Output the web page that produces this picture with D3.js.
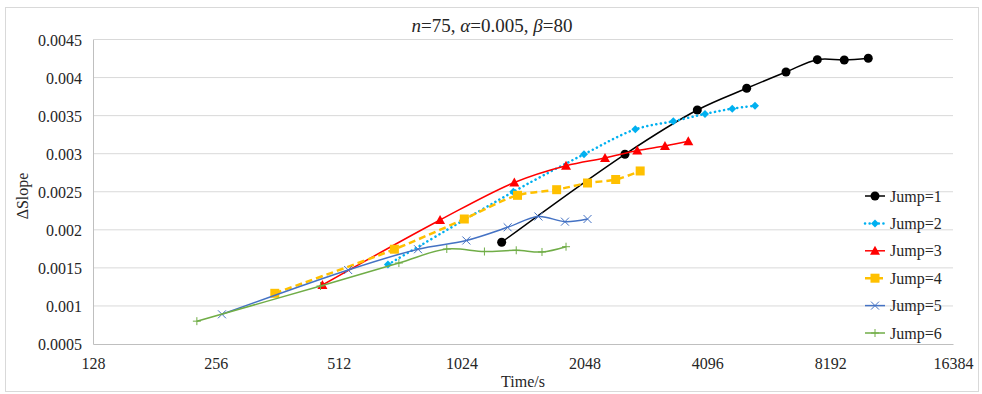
<!DOCTYPE html>
<html>
<head>
<meta charset="utf-8">
<script src="https://cdn.jsdelivr.net/npm/d3@7"></script>
<style>
  body { margin: 0; background: #fff; }
  text { font-family: "Liberation Serif", "Times New Roman", serif; fill: #262626; }
</style>
</head>
<body>
<div id="chart"></div>
<script>
var svgWidth = 982;
var svgHeight = 394;

var margin = { top: 39.5, right: 29, bottom: 50, left: 93 };
var width = 953 - margin.left;
var height = 344 - margin.top;

// data (time in seconds, delta slope)
var seriesNames = ["Jump=1", "Jump=2", "Jump=3", "Jump=4", "Jump=5", "Jump=6"];

var jump1Time = [1284, 2574, 3872, 5116, 6386, 7620, 8871, 10158];
var jump1Val = [0.001836, 0.002992, 0.003574, 0.003859, 0.004073, 0.004235, 0.004231, 0.004253];

var jump2Time = [676, 1371, 2043, 2729, 3382, 4043, 4716, 5361];
var jump2Val = [0.001543, 0.0025, 0.002992, 0.00332, 0.003426, 0.003522, 0.003591, 0.00363];

var jump3Time = [467, 907, 1379, 1846, 2300, 2759, 3226, 3680];
var jump3Val = [0.001275, 0.002129, 0.002622, 0.002842, 0.002944, 0.003042, 0.003101, 0.003163];

var jump4Time = [357, 701, 1040, 1404, 1751, 2084, 2443, 2805];
var jump4Val = [0.001166, 0.001745, 0.002142, 0.002453, 0.002527, 0.002615, 0.002661, 0.002773];

var jump5Time = [265, 540, 801, 1052, 1328, 1580, 1835, 2084];
var jump5Val = [0.00089, 0.001472, 0.001745, 0.00186, 0.002033, 0.002175, 0.002107, 0.002142];

var jump6Time = [230, 462, 719, 942, 1165, 1394, 1612, 1846];
var jump6Val = [0.0008, 0.001262, 0.001564, 0.001748, 0.001715, 0.001731, 0.001709, 0.001778];

var xTicks = [128, 256, 512, 1024, 2048, 4096, 8192, 16384];
var yTicks = [0.0005, 0.001, 0.0015, 0.002, 0.0025, 0.003, 0.0035, 0.004, 0.0045];

var allTimes = [jump1Time, jump2Time, jump3Time, jump4Time, jump5Time, jump6Time];
var allVals = [jump1Val, jump2Val, jump3Val, jump4Val, jump5Val, jump6Val];

// styles per series
var colors = ["#000000", "#00B0F0", "#FF0000", "#FFC000", "#4472C4", "#70AD47"];
var widths = [1.5, 2.5, 1.5, 2.5, 1.5, 1.5];
var dashes = [null, "0.1,4.5", null, "7,4", null, null];
var caps = ["butt", "round", "butt", "butt", "butt", "butt"];
var shapes = ["circle", "diamond", "triangle", "square", "x", "plus"];

var svg = d3.select("#chart")
  .append("svg")
  .attr("width", svgWidth)
  .attr("height", svgHeight);

// outer frame
svg.append("rect")
  .attr("x", 5.5)
  .attr("y", 7.5)
  .attr("width", 973)
  .attr("height", 384)
  .attr("fill", "none")
  .attr("stroke", "#d9d9d9");

var chartGroup = svg.append("g")
  .attr("transform", `translate(${margin.left}, ${margin.top})`);

var xScale = d3.scaleLog().base(2)
  .domain([128, 16384])
  .range([0, width]);

var yScale = d3.scaleLinear()
  .domain([0.0005, 0.0045])
  .range([height, 0]);

// gridlines
chartGroup.append("g")
  .selectAll("line")
  .data(yTicks.slice(1))
  .enter()
  .append("line")
  .attr("x1", 0)
  .attr("x2", width)
  .attr("y1", d => yScale(d))
  .attr("y2", d => yScale(d))
  .attr("stroke", "#d9d9d9")
  .attr("stroke-width", 1);

// axes
var leftAxis = d3.axisLeft(yScale)
  .tickValues(yTicks)
  .tickSize(0)
  .tickPadding(11)
  .tickFormat(d => String(+d.toFixed(4)));

var bottomAxis = d3.axisBottom(xScale)
  .tickValues(xTicks)
  .tickSize(0)
  .tickPadding(14)
  .tickFormat(d => String(d));

var yAxis = chartGroup.append("g").call(leftAxis);
var xAxis = chartGroup.append("g")
  .attr("transform", `translate(0, ${height})`)
  .call(bottomAxis);

[yAxis, xAxis].forEach(function(ax) {
  ax.select(".domain").attr("stroke", "#bfbfbf");
  ax.selectAll("text")
    .attr("font-family", "Liberation Serif")
    .attr("font-size", "16px")
    .attr("fill", "#262626");
});
yAxis.selectAll("text").attr("dy", "0.35em");

// axis titles
svg.append("text")
  .attr("x", 523)
  .attr("y", 387)
  .attr("text-anchor", "middle")
  .attr("font-size", "16px")
  .text("Time/s");

svg.append("text")
  .attr("transform", "translate(28, 196) rotate(-90)")
  .attr("text-anchor", "middle")
  .attr("font-size", "16px")
  .text("\u0394Slope");

// title with italic symbols
var title = svg.append("text")
  .attr("x", 492)
  .attr("y", 32)
  .attr("text-anchor", "middle")
  .attr("font-size", "19px");
title.append("tspan").attr("font-style", "italic").text("n");
title.append("tspan").text("=75, ");
title.append("tspan").attr("font-style", "italic").text("\u03B1");
title.append("tspan").text("=0.005, ");
title.append("tspan").attr("font-style", "italic").text("\u03B2");
title.append("tspan").text("=80");

// marker drawing
function drawMarker(g, shape, color, x, y) {
  if (shape === "circle") {
    g.append("circle").attr("cx", x).attr("cy", y).attr("r", 4.5).attr("fill", color);
  } else if (shape === "diamond") {
    g.append("path")
      .attr("d", `M${x},${y - 4}L${x + 4},${y}L${x},${y + 4}L${x - 4},${y}Z`)
      .attr("fill", color);
  } else if (shape === "triangle") {
    g.append("path")
      .attr("d", `M${x},${y - 5}L${x + 5},${y + 4}L${x - 5},${y + 4}Z`)
      .attr("fill", color);
  } else if (shape === "square") {
    g.append("rect").attr("x", x - 4.5).attr("y", y - 4.5)
      .attr("width", 9).attr("height", 9).attr("fill", color);
  } else if (shape === "x") {
    g.append("path")
      .attr("d", `M${x - 4},${y - 4}L${x + 4},${y + 4}M${x - 4},${y + 4}L${x + 4},${y - 4}`)
      .attr("stroke", color).attr("stroke-width", 1).attr("fill", "none");
  } else if (shape === "plus") {
    g.append("path")
      .attr("d", `M${x - 4},${y}L${x + 4},${y}M${x},${y - 4}L${x},${y + 4}`)
      .attr("stroke", color).attr("stroke-width", 1).attr("fill", "none");
  }
}

var line = d3.line()
  .x(d => xScale(d[0]))
  .y(d => yScale(d[1]))
  .curve(d3.curveCatmullRom.alpha(0.5));

seriesNames.forEach(function(name, i) {
  var pts = allTimes[i].map((t, j) => [t, allVals[i][j]]);
  var g = chartGroup.append("g");
  g.append("path")
    .datum(pts)
    .attr("d", line)
    .attr("fill", "none")
    .attr("stroke", colors[i])
    .attr("stroke-width", widths[i])
    .attr("stroke-linecap", caps[i])
    .attr("stroke-dasharray", dashes[i]);
  pts.forEach(function(p) {
    drawMarker(g, shapes[i], colors[i], xScale(p[0]), yScale(p[1]));
  });
});

// legend
var legend = svg.append("g");
seriesNames.forEach(function(name, i) {
  var ly = 196 + i * 27.4;
  var item = legend.append("g");
  item.append("line")
    .attr("x1", 865).attr("x2", 885)
    .attr("y1", ly).attr("y2", ly)
    .attr("stroke", colors[i])
    .attr("stroke-width", widths[i])
    .attr("stroke-linecap", caps[i])
    .attr("stroke-dasharray", dashes[i]);
  drawMarker(item, shapes[i], colors[i], 875, ly);
  item.append("text")
    .attr("x", 890)
    .attr("y", ly + 5.5)
    .attr("font-size", "16px")
    .text(name);
});
</script>
</body>
</html>
